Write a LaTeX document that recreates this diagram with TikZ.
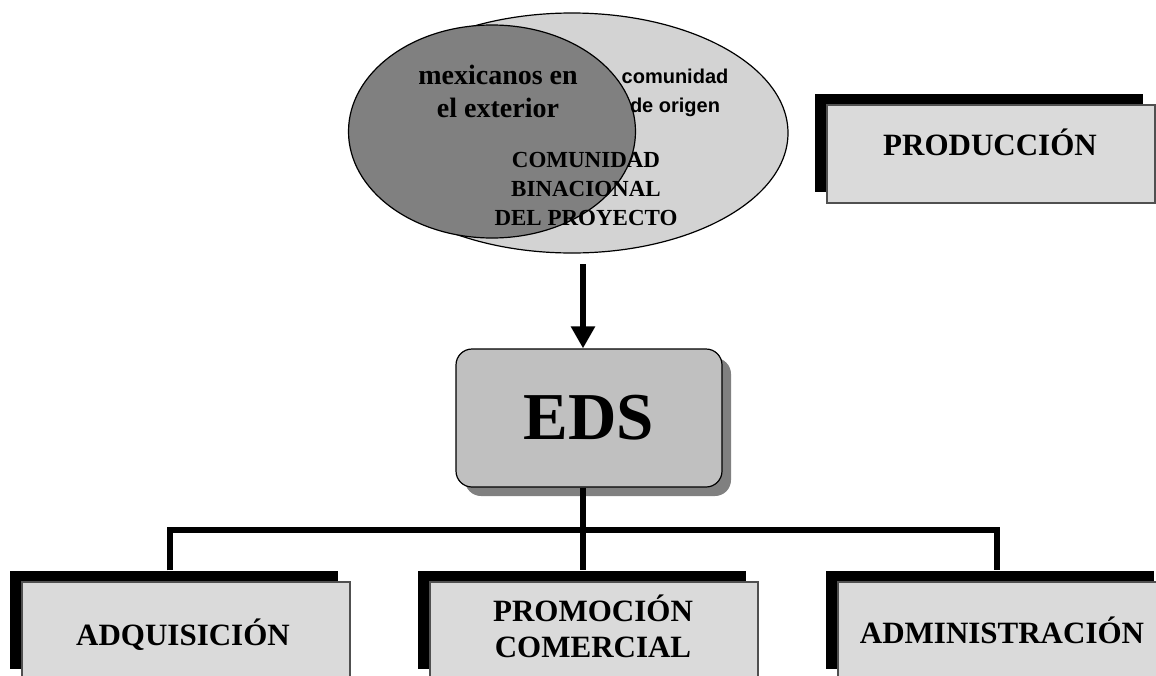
\documentclass[tikz,border=0pt]{standalone}
\usepackage{fontspec}
\setmainfont{Liberation Serif}
\setsansfont{Liberation Sans}
\usetikzlibrary{arrows.meta,shadows,shapes.geometric}
\definecolor{ellL}{RGB}{211,211,211}
\definecolor{ellD}{RGB}{128,128,128}
\definecolor{edsF}{RGB}{192,192,192}
\definecolor{boxF}{RGB}{218,218,218}
\definecolor{boxD}{RGB}{80,80,80}
\definecolor{shdG}{RGB}{128,128,128}
\begin{document}
\begin{tikzpicture}[x=1pt,y=-1pt,
  conn/.style={line width=6pt, line join=miter},
  lbox/.style={draw=boxD, line width=1.5pt, fill=boxF, minimum width=328pt,
    minimum height=98pt, inner sep=0pt,
    general shadow={fill=black, shadow xshift=-12pt, shadow yshift=11pt}},
  ltxt/.style={font=\bfseries\fontsize{31}{36}\selectfont, anchor=base, align=center, inner sep=0pt},
  ell/.style={ellipse, draw=black, line width=1.2pt, inner sep=0pt}]
\useasboundingbox (0,0) rectangle (1156,675);
\clip (0,0) rectangle (1156,675);

% Venn ellipses
\node[ell, fill=ellL, minimum width=432pt, minimum height=240pt] (big) at (572,133) {};
\node[ell, fill=ellD, minimum width=287pt, minimum height=213pt] (dark) at (492,131.5) {};

% (base anchor of a multi-line node = baseline of its last line)
\node[anchor=base, align=center, inner sep=0pt, font=\bfseries\fontsize{28}{33}\selectfont] (mex) at (498,117) {mexicanos en\\el exterior};
\node[anchor=base, align=center, inner sep=0pt, font=\sffamily\bfseries\fontsize{20}{29}\selectfont] (orig) at (675,112) {comunidad\\de origen};
\node[anchor=base, align=center, inner sep=0pt, font=\bfseries\fontsize{23}{29}\selectfont] (binac) at (586,225) {COMUNIDAD\\BINACIONAL\\DEL PROYECTO};

% EDS
\node[draw=black, line width=1.2pt, rounded corners=16pt, fill=edsF, minimum width=266pt,
  minimum height=138pt, inner sep=0pt, font=\bfseries\fontsize{67}{70}\selectfont,
  general shadow={fill=shdG, shadow xshift=9pt, shadow yshift=-9pt}] (eds) at (589,418) {EDS};

% Boxes
\node[lbox] (prod) at (991,154) {};
\node[lbox] (adq) at (186,631) {};
\node[lbox] (prom) at (594,631) {};
\node[lbox] (adm) at (1002,631) {};

\node[ltxt] (prodT) at (990,155) {PRODUCCIÓN};
\node[ltxt] (adqT) at (183,645) {ADQUISICIÓN};
\node[ltxt] (promT) at (593,657) {PROMOCIÓN\\COMERCIAL};
\node[ltxt] (admT) at (1002,643) {ADMINISTRACIÓN};

% connectors
\coordinate (aS) at (583,264);
\draw[conn, -{Triangle[width=23pt,length=22pt]}] (aS) -- (aS |- eds.north);

\coordinate (bL) at (170,530);
\coordinate (bM) at (583,530);
\coordinate (bR) at (997,530);
\path ([yshift=11pt]adq.north) coordinate (adqS)
      ([yshift=11pt]prom.north) coordinate (promS)
      ([yshift=11pt]adm.north) coordinate (admS);
\draw[conn] (bL |- adqS) -- (bL) -- (bR) -- (bR |- admS);
\draw[conn] (bM |- eds.south) -- (bM |- promS);
\end{tikzpicture}
\end{document}
